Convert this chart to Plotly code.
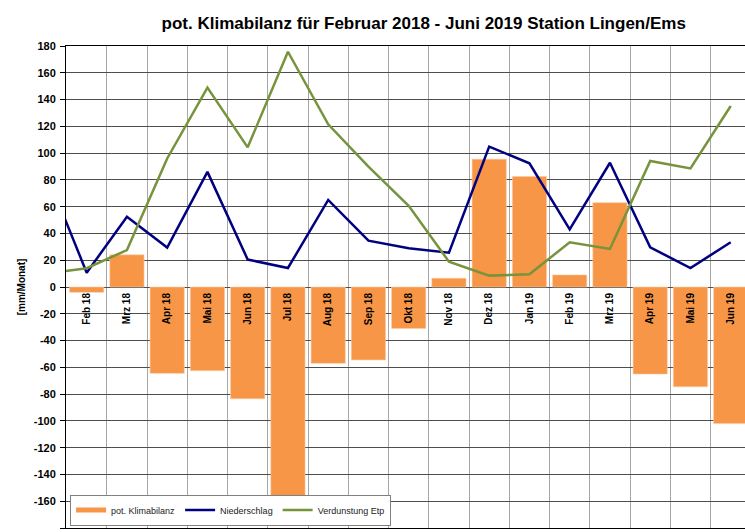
import plotly.graph_objects as go

# ---------------- data ----------------
months = ["Feb 18", "Mrz 18", "Apr 18", "Mai 18", "Jun 18", "Jul 18", "Aug 18", "Sep 18",
          "Okt 18", "Nov 18", "Dez 18", "Jan 19", "Feb 19", "Mrz 19", "Apr 19", "Mai 19", "Jun 19"]

klimabilanz = [-4, 24, -64.5, -62.5, -83.5, -163, -57, -54.5, -31, 6.5, 95.5, 82.5, 9, 63, -65, -74.5, -102]

# the line series start one month earlier (Jan 18), which is clipped at the left edge
line_months = ["Jan 18"] + months
niederschlag = [85, 10.7, 52.5, 29.5, 86, 20.5, 14.2, 65, 34.6, 28.9, 25.6, 104.8, 92.4, 43, 92.8, 29.6, 14.2, 33.4]
verdunstung = [10, 14, 27.6, 96, 149, 104.3, 175.7, 121.5, 89.9, 60.7, 18.9, 8.5, 9.5, 33.4, 28.4, 94.1, 88.6, 135.2]

y_ticks = list(range(-180, 181, 20))
y_tick_labels = [str(v) for v in y_ticks]

# ---------------- figure ----------------
FONT = "Liberation Sans, Arial, sans-serif"
x_bar = list(range(len(months)))
x_line = list(range(-1, len(months)))
x_range = [-0.514, 16.355]

fig = go.Figure()

fig.add_trace(go.Bar(
    x=x_bar, y=klimabilanz, name="pot. Klimabilanz",
    marker=dict(color="#F79646", line=dict(color="#FBC9A3", width=0.6)),
    width=0.85, showlegend=False, xaxis="x", yaxis="y",
))
# legend entry for the bars (drawn as a short thick line, like the original)
fig.add_trace(go.Scatter(
    x=[None], y=[None], mode="lines", name="pot. Klimabilanz",
    line=dict(color="#F79646", width=5), xaxis="x2", yaxis="y",
))
fig.add_trace(go.Scatter(
    x=x_line, y=niederschlag, mode="lines", name="Niederschlag",
    line=dict(color="#000080", width=2.5), xaxis="x2", yaxis="y", cliponaxis=True,
))
fig.add_trace(go.Scatter(
    x=x_line, y=verdunstung, mode="lines", name="Verdunstung Etp",
    line=dict(color="#77933C", width=2.5), xaxis="x2", yaxis="y", cliponaxis=True,
))

fig.update_layout(
    width=745, height=532,
    margin=dict(l=66, r=0, t=46, b=4, autoexpand=False),
    paper_bgcolor="white", plot_bgcolor="white",
    font=dict(family=FONT, color="black"),
    title=dict(
        text="<b>pot. Klimabilanz für Februar 2018 - Juni 2019 Station Lingen/Ems</b>",
        font=dict(family=FONT, size=17, color="black"),
        x=392.5 / 745, xanchor="center", xref="paper",
        y=1 - 23 / 532, yanchor="middle", yref="container",
    ),
    bargap=0.15,
    xaxis=dict(
        range=x_range, domain=[0, 1], anchor="y",
        showticklabels=False, ticks="", showgrid=False, zeroline=False,
        showline=True, linecolor="black", linewidth=1, mirror=True,
        minor=dict(tick0=0.5, dtick=1, showgrid=True, gridcolor="#a6a6a6", gridwidth=1, ticks=""),
    ),
    xaxis2=dict(
        range=x_range, overlaying="x", anchor="free", position=0.5, side="bottom",
        tickmode="array", tickvals=x_bar, ticktext=months, tickangle=-90,
        tickfont=dict(family=FONT, size=10, color="black", weight="bold"),
        ticks="", showgrid=False, zeroline=False, showline=False,
        ticklabelstandoff=3,
    ),
    yaxis=dict(
        range=[-180, 180], tickmode="array", tickvals=y_ticks, ticktext=y_tick_labels,
        tickfont=dict(family=FONT, size=11, color="black", weight="bold"),
        ticks="outside", ticklen=5, tickcolor="black",
        showgrid=True, gridcolor="#4d4d4d", gridwidth=1,
        zeroline=True, zerolinecolor="#4d4d4d", zerolinewidth=1,
        showline=True, linecolor="black", linewidth=1,
        ticklabelstandoff=2,
        title=dict(text="<b>[mm/Monat]</b>", font=dict(family=FONT, size=10, color="black"), standoff=6),
    ),
    legend=dict(
        orientation="h", x=0.006, xanchor="left", y=0.005, yanchor="bottom",
        bgcolor="white", bordercolor="#808080", borderwidth=1,
        font=dict(family=FONT, size=9, color="#222222"),
        itemwidth=30, tracegroupgap=0,
    ),
)

fig.write_html(
    "out.html",
    config={"displayModeBar": False},
    post_script="document.body.style.margin='0';document.body.style.overflow='hidden';",
)
